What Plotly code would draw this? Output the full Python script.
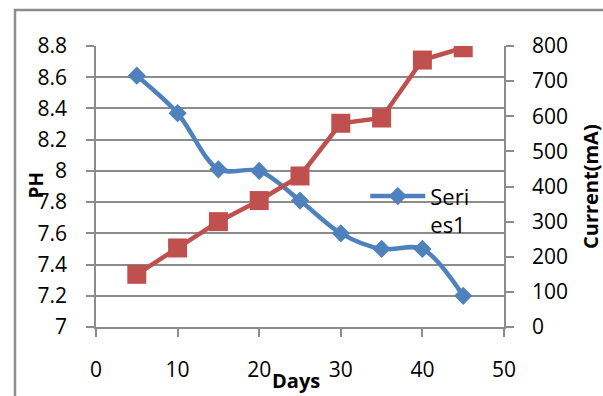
import plotly.graph_objects as go

# Measurements over the test period
days = [5, 10, 15, 20, 25, 30, 35, 40, 45]
ph_values = [8.61, 8.37, 8.01, 8.00, 7.81, 7.60, 7.50, 7.50, 7.20]
current_ma = [150, 225, 300, 360, 430, 580, 595, 760, 795]

# Axis ticks
day_ticks = [0, 10, 20, 30, 40, 50]
ph_ticks = [7, 7.2, 7.4, 7.6, 7.8, 8, 8.2, 8.4, 8.6, 8.8]
ph_tick_text = ["7", "7.2", "7.4", "7.6", "7.8", "8", "8.2", "8.4", "8.6", "8.8"]
current_ticks = [0, 100, 200, 300, 400, 500, 600, 700, 800]

BLUE = "#4F81BD"
RED = "#C0504D"
GRID = "#8C8C8C"
FONT = "Open Sans"

fig = go.Figure()

fig.add_trace(go.Scatter(
    x=days, y=ph_values, name="Seri<br>es1",
    mode="lines+markers",
    line=dict(color=BLUE, width=4.5, shape="spline", smoothing=0.9),
    marker=dict(symbol="diamond", size=14, color=BLUE),
    yaxis="y",
))

fig.add_trace(go.Scatter(
    x=days, y=current_ma, name="Current",
    mode="lines+markers",
    line=dict(color=RED, width=4.5),
    marker=dict(symbol="square", size=19, color=RED),
    yaxis="y2", showlegend=False,
))

axis_common = dict(
    showline=True, linecolor=GRID, linewidth=1.5,
    ticks="outside", ticklen=8, tickwidth=1.5, tickcolor=GRID,
    tickfont=dict(family=FONT, size=21, color="#000000"),
    zeroline=False,
)

fig.update_layout(
    width=603, height=396,
    margin=dict(l=96, r=99, t=46, b=69),
    paper_bgcolor="white", plot_bgcolor="white",
    font=dict(family=FONT, color="#000000"),
    xaxis=dict(
        range=[0, 50], tickvals=day_ticks, showgrid=False,
        ticklabelstandoff=15, **axis_common,
    ),
    yaxis=dict(
        range=[7, 8.8], tickvals=ph_ticks, ticktext=ph_tick_text,
        showgrid=True, gridcolor=GRID, gridwidth=1.5,
        ticklabelstandoff=15, **axis_common,
    ),
    yaxis2=dict(
        range=[0, 800], tickvals=current_ticks, overlaying="y", side="right",
        showgrid=False, ticklabelstandoff=14, **axis_common,
    ),
    legend=dict(
        x=0.66, y=0.54, xanchor="left", yanchor="top",
        bgcolor="rgba(0,0,0,0)", valign="top", itemwidth=55,
        font=dict(family=FONT, size=22, color="#000000"),
        tracegroupgap=0,
    ),
    showlegend=True,
)

# Axis titles
title_font = dict(family=FONT, size=20, color="#000000")
fig.add_annotation(text="<b>PH</b>", xref="paper", yref="paper",
                   x=-0.147, y=0.504, xanchor="center", yanchor="middle",
                   textangle=-90, showarrow=False,
                   font=dict(family=FONT, size=19, color="#000000"))
fig.add_annotation(text="<b>Current(mA)</b>", xref="paper", yref="paper",
                   x=1.212, y=0.5, xanchor="center", yanchor="middle",
                   textangle=-90, showarrow=False, font=title_font)
fig.add_annotation(text="<b>Days</b>", xref="paper", yref="paper",
                   x=0.489, y=-0.19, xanchor="center", yanchor="middle",
                   showarrow=False, font=title_font)

# Chart area border
fig.add_shape(type="rect", xref="paper", yref="paper",
              x0=-0.1985, x1=1.5, y0=-0.5, y1=1.128,
              line=dict(color="#8C8C8C", width=2.5), fillcolor="rgba(0,0,0,0)")

fig.write_html("out.html")
